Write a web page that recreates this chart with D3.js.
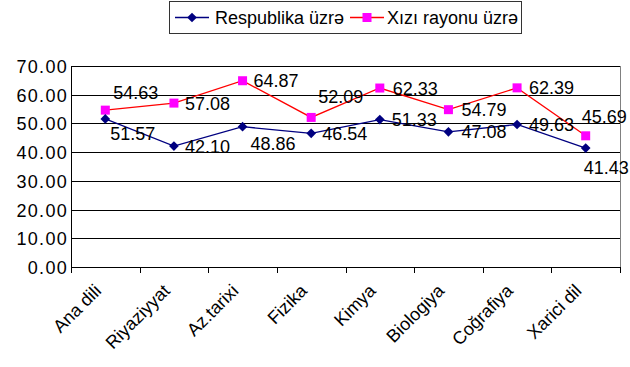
<!DOCTYPE html>
<html lang="en">
<head>
    <meta charset="UTF-8">
    <title>Respublika / Xızı rayonu</title>
    <script src="https://d3js.org/d3.v7.min.js"></script>
    <style>
        body {
            margin: 0;
            background: #fff;
            font-family: 'Liberation Sans', Arial, sans-serif;
        }
        .grid line {
            stroke: #000;
            stroke-width: 1px;
            shape-rendering: crispEdges;
        }
        .axis text {
            font: 18px 'Liberation Sans', Arial, sans-serif;
            fill: #000;
        }
        .val-label {
            font: 18px 'Liberation Sans', Arial, sans-serif;
            fill: #000;
        }
        .legend text {
            font: 18px 'Liberation Sans', Arial, sans-serif;
        }
    </style>
</head>
<body>
    <div id="chart"></div>
    <script>
        const subjects = ["Ana dili", "Riyaziyyat", "Az.tarixi", "Fizika", "Kimya", "Biologiya", "Coğrafiya", "Xarici dil"];
        const respublika = [51.57, 42.10, 48.86, 46.54, 51.33, 47.08, 49.63, 41.43];
        const xizi = [54.63, 57.08, 64.87, 52.09, 62.33, 54.79, 62.39, 45.69];
        const yTicks = [0, 10, 20, 30, 40, 50, 60, 70];
        const seriesNames = ["Respublika üzrə", "Xızı rayonu üzrə"];

        // label nudges (dx, dy) - where excel moved them around
        const blueShift = [[5, 15], [11, 0], [8, 17], [11, 0], [12, 0], [13, 0], [12, 0], [-2, 19]];
        const redShift = [[8, -18], [11, 0], [11, 0], [7, -21], [13, 0], [13, 0], [12, 0], [-4, -19]];

        const width = 630, height = 367;
        const margin = {top: 66, right: 10, bottom: 100, left: 71};
        const innerW = width - margin.left - margin.right;
        const innerH = height - margin.top - margin.bottom;

        const svg = d3.select("#chart").append("svg")
            .attr("width", width)
            .attr("height", height);

        const g = svg.append("g")
            .attr("transform", "translate(" + margin.left + "," + margin.top + ")");

        const x = d3.scaleBand().domain(subjects).range([0, innerW]);
        const y = d3.scaleLinear().domain([0, 70]).range([innerH, 0]);

        // gridlines
        g.append("g").attr("class", "grid")
            .selectAll("line")
            .data(yTicks)
            .enter().append("line")
            .attr("x1", 0).attr("x2", innerW)
            .attr("y1", d => Math.round(y(d)) + 0.5)
            .attr("y2", d => Math.round(y(d)) + 0.5);

        // right frame
        g.append("line")
            .attr("x1", innerW + 0.5).attr("x2", innerW + 0.5)
            .attr("y1", 0).attr("y2", innerH)
            .attr("stroke", "#808080");

        // y axis
        const yAxis = g.append("g").attr("class", "axis")
            .call(d3.axisLeft(y).tickValues(yTicks).tickFormat(d3.format(".2f")).tickSize(0).tickPadding(3));
        yAxis.select(".domain").attr("stroke", "#000");
        yAxis.selectAll("text").attr("letter-spacing", "1.3px").attr("dy", "0.36em");

        // x axis with ticks at category boundaries
        const xAxisG = g.append("g").attr("transform", "translate(0," + innerH + ")");
        xAxisG.append("line")
            .attr("x1", 0).attr("x2", innerW)
            .attr("y1", 0.5).attr("y2", 0.5)
            .attr("stroke", "#000");
        xAxisG.selectAll(".tick")
            .data(subjects.concat([null]))
            .enter().append("line")
            .attr("x1", (d, i) => Math.round(i * x.bandwidth()) + 0.5)
            .attr("x2", (d, i) => Math.round(i * x.bandwidth()) + 0.5)
            .attr("y1", 0).attr("y2", 6)
            .attr("stroke", "#000");
        xAxisG.selectAll(".xlab")
            .data(subjects)
            .enter().append("text")
            .attr("class", "val-label")
            .attr("text-anchor", "end")
            .attr("transform", d => "translate(" + (x(d) + x.bandwidth() / 2 - 3) + ",25) rotate(-45)")
            .text(d => d);

        const cx = d => x(d) + x.bandwidth() / 2;

        const line = d3.line()
            .x((d, i) => cx(subjects[i]))
            .y(d => y(d));

        // red series
        g.append("path").datum(xizi)
            .attr("fill", "none")
            .attr("stroke", "#ff0000")
            .attr("stroke-width", 1.3)
            .attr("d", line);
        g.selectAll(".sq")
            .data(xizi)
            .enter().append("rect")
            .attr("x", (d, i) => cx(subjects[i]) - 4.5)
            .attr("y", d => y(d) - 4.5)
            .attr("width", 9).attr("height", 9)
            .attr("fill", "#ff00ff");

        // blue series
        g.append("path").datum(respublika)
            .attr("fill", "none")
            .attr("stroke", "#000080")
            .attr("stroke-width", 1.3)
            .attr("d", line);
        const diamond = d3.symbol().type(d3.symbolDiamond2).size(60);
        g.selectAll(".dm")
            .data(respublika)
            .enter().append("path")
            .attr("d", diamond)
            .attr("transform", (d, i) => "translate(" + cx(subjects[i]) + "," + y(d) + ")")
            .attr("fill", "#000080");

        // value labels
        g.selectAll(".lblR")
            .data(xizi)
            .enter().append("text")
            .attr("class", "val-label")
            .attr("x", (d, i) => cx(subjects[i]) + redShift[i][0])
            .attr("y", (d, i) => y(d) + redShift[i][1])
            .attr("dy", "0.36em")
            .text(d => d.toFixed(2));
        g.selectAll(".lblB")
            .data(respublika)
            .enter().append("text")
            .attr("class", "val-label")
            .attr("x", (d, i) => cx(subjects[i]) + blueShift[i][0])
            .attr("y", (d, i) => y(d) + blueShift[i][1])
            .attr("dy", "0.36em")
            .text(d => d.toFixed(2));

        // legend
        const leg = svg.append("g").attr("class", "legend");
        leg.append("rect")
            .attr("x", 169.5).attr("y", 1.5)
            .attr("width", 352).attr("height", 32)
            .attr("fill", "#fff").attr("stroke", "#333");
        const legItems = [
            {name: seriesNames[0], color: "#000080", x0: 175, tx: 215, mark: "diamond"},
            {name: seriesNames[1], color: "#ff0000", x0: 350, tx: 387, mark: "square"}
        ];
        legItems.forEach(it => {
            leg.append("line")
                .attr("x1", it.x0).attr("x2", it.x0 + 34)
                .attr("y1", 17.5).attr("y2", 17.5)
                .attr("stroke", it.color).attr("stroke-width", 1.3);
            if (it.mark === "diamond") {
                leg.append("path").attr("d", diamond)
                    .attr("transform", "translate(" + (it.x0 + 17) + ",17.5)")
                    .attr("fill", "#000080");
            } else {
                leg.append("rect")
                    .attr("x", it.x0 + 17 - 4.5).attr("y", 13)
                    .attr("width", 9).attr("height", 9)
                    .attr("fill", "#ff00ff");
            }
            leg.append("text")
                .attr("x", it.tx).attr("y", 18)
                .attr("dy", "0.36em")
                .attr("fill", "#000")
                .text(it.name);
        });
    </script>
</body>
</html>
